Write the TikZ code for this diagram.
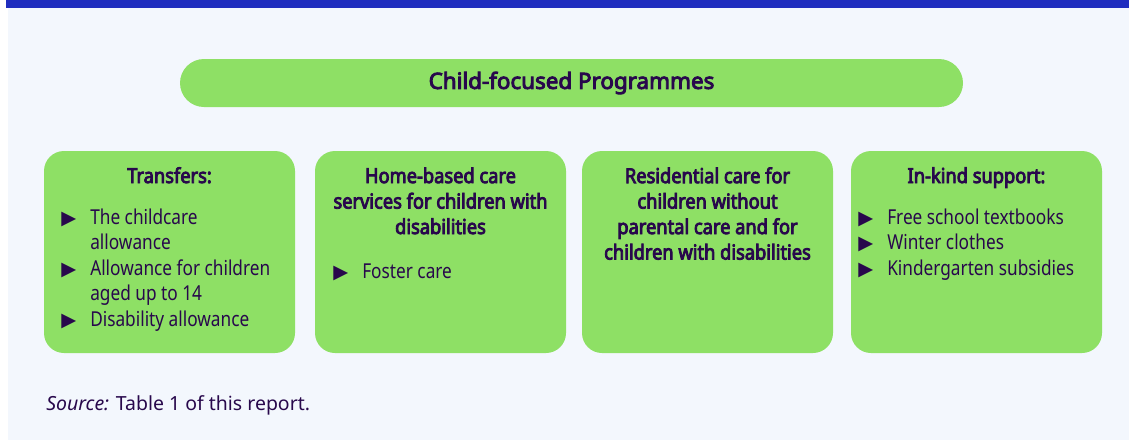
\documentclass[tikz,border=0pt]{standalone}
\usepackage{fontspec}
\setmainfont{Noto Sans}
\newfontfamily\condfont[FakeStretch=0.84]{Noto Sans}
\newfontfamily\headfont[FakeStretch=0.89,FakeBold=4]{Noto Sans}
\newfontfamily\pillfont[FakeBold=4]{Noto Sans}
\newfontfamily\symfont{DejaVu Sans}
\usetikzlibrary{positioning}

\definecolor{barblue}{HTML}{1F2DBF}
\definecolor{paleblue}{HTML}{F3F7FD}
\definecolor{leafgreen}{HTML}{8EE065}
\definecolor{inkpurple}{HTML}{28084C}

% bullet with fixed indent
\newcommand{\tri}{\makebox[21.75pt][l]{\symfont\fontsize{14.5}{14.5}\selectfont ▶}}
\newcommand{\ind}{\hspace*{21.75pt}}

\tikzset{
  pill/.style={fill=leafgreen, rounded corners=18pt, minimum width=587.25pt,
    minimum height=36pt, text=inkpurple, font=\pillfont\fontsize{16.8}{18}\selectfont},
  catbox/.style={fill=leafgreen, rounded corners=15pt, minimum width=188.25pt,
    minimum height=151.5pt, inner sep=0pt},
  boxhead/.style={text=inkpurple, inner sep=0pt, anchor=base, align=center,
    font=\headfont\fontsize{15.4}{19.1}\selectfont},
  boxlist/.style={text=inkpurple, inner sep=0pt, anchor=base west, align=left,
    font=\condfont\fontsize{15.4}{19.1}\selectfont},
}

\begin{document}
\begin{tikzpicture}[x=0.75pt,y=-0.75pt]
  \useasboundingbox (0,0) rectangle (1129,440);
  \fill[white] (0,0) rectangle (1129,440);
  \fill[paleblue] (8,8) rectangle (1129,440);
  \fill[barblue] (6,0) rectangle (1129,8);

  \node[pill] (programmes) at (571.5,83) {Child-focused Programmes};

  \node[catbox] (transfers) at (169.5,252) {};
  \node[catbox] (homecare) at (440.5,252) {};
  \node[catbox] (residential) at (707.5,252) {};
  \node[catbox] (inkind) at (976.5,252) {};

  % headings (base = last line)
  \node[boxhead] (transfersHead) at (169.5,183) {Transfers:};
  \node[boxhead] (homecareHead) at (440.5,234) {Home-based care\\services for children with\\disabilities};
  \node[boxhead] (residentialHead) at (707.5,259.5) {Residential care for\\children without\\parental care and for\\children with disabilities};
  \node[boxhead] (inkindHead) at (976.5,183) {In-kind support:};

  % item lists (base = last line)
  \node[boxlist] (transfersList) at (61,326) {\tri The childcare\\\ind allowance\\\tri Allowance for children\\\ind aged up to 14\\\tri Disability allowance};
  \node[boxlist] (homecareList) at (333,278) {\tri Foster care};
  \node[boxlist] (inkindList) at (858,275) {\tri Free school textbooks\\\tri Winter clothes\\\tri Kindergarten subsidies};

  \node[anchor=base west, inner sep=0pt, text=inkpurple, font=\fontsize{14.6}{16}\selectfont]
    (source) at (46,410) {\textit{Source:} Table 1 of this report.};
\end{tikzpicture}
\end{document}
